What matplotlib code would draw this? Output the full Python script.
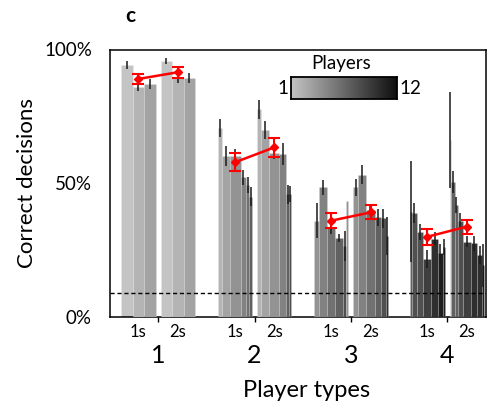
import numpy as np
import matplotlib
matplotlib.use('Agg')
import matplotlib.pyplot as plt
from matplotlib.colors import LinearSegmentedColormap

plt.rcParams['font.family'] = ['Lato', 'DejaVu Sans']

# ---------------- data ----------------
player_types = [1, 2, 3, 4]
stage_labels = ['1s', '2s']

# players (colour index 1..12) of the bars in each block
players_1s = [[1, 2, 3], [2, 3, 4, 5, 6, 7], [4, 5, 6, 7, 8, 4], [7, 8, 8, 9, 10, 11, 11]]
players_2s = [[1, 2, 3], [2, 3, 4, 5, 7, 8], [4, 5, 6, 7, 8, 10], [2, 7, 7, 8, 9, 10, 10, 11]]

# correct decisions (%) per bar
values_1s = [[94.2, 86.1, 87.1],
             [70.8, 60.2, 60.2, 52.2, 49.3, 45.0],
             [36.0, 48.5, 33.2, 29.6, 26.5, 43.4],
             [39.4, 38.8, 31.9, 21.8, 29.3, 23.8, 26.0]]
values_2s = [[95.8, 89.5, 89.2],
             [77.6, 69.9, 61.4, 61.0, 45.9, 46.0],
             [48.5, 53.2, 40.0, 37.2, 36.9, 30.2],
             [66.2, 50.5, 42.0, 35.9, 28.2, 27.5, 23.2, 19.4]]

# error (%) per bar
errors_1s = [[1.4, 1.6, 1.7],
             [3.4, 3.6, 2.7, 2.8, 3.0, 3.5],
             [6.5, 2.9, 2.0, 1.6, 5.5, 0.0],
             [19.0, 3.7, 3.0, 3.4, 2.5, 3.5, 3.0]]
errors_2s = [[1.1, 2.0, 1.9],
             [3.7, 3.3, 2.5, 4.0, 3.6, 3.0],
             [3.1, 3.5, 2.0, 3.0, 3.5, 7.0],
             [18.0, 4.0, 3.0, 3.0, 2.0, 2.8, 3.5, 8.0]]

# mean per type and stage (red)
mean_1s = [89.0, 57.8, 36.0, 30.0]
mean_2s = [91.5, 63.4, 39.1, 33.8]
mean_err_1s = [2.0, 3.4, 2.8, 3.0]
mean_err_2s = [2.0, 3.6, 2.6, 2.6]

chance_level = 100 / 11

# ---------------- style ----------------
# relative widths of the bars inside each block (style only)
widths_1s = [[11, 11.3, 11],
             [4.3, 8, 11, 5, 3.3, 2.7],
             [5.3, 7.3, 7.7, 8.3, 3, 2],
             [1.7, 5, 6.7, 8.3, 6.7, 5, 1.7]]
widths_2s = [[11, 11.7, 11.3],
             [4.3, 7.3, 11, 7.3, 2.7, 2.3],
             [5, 7.3, 9.3, 6.3, 5, 2],
             [1, 4, 3.3, 5.7, 7.7, 6.7, 5.7, 1.7]]

block_offset = 0.205
block_width = 0.355

cmap = LinearSegmentedColormap.from_list('players', ['#c4c4c4', '#0e0e0e'])


def pcolor(p):
    return cmap((p - 1) / 11)


fig = plt.figure(figsize=(4.97, 4.08), dpi=100)
ax = fig.add_axes([110 / 497, 1 - 317 / 408, 375.7 / 497, 267.5 / 408])

z = 2
for stage, (pl, vals, errs, wids) in enumerate([
        (players_1s, values_1s, errors_1s, widths_1s),
        (players_2s, values_2s, errors_2s, widths_2s)]):
    sign = -1 if stage == 0 else 1
    for gi, t in enumerate(player_types):
        center = t + sign * block_offset
        w = np.array(wids[gi], dtype=float)
        w = w / w.sum() * block_width
        lefts = center - block_width / 2 + np.concatenate([[0], np.cumsum(w)[:-1]])
        for j in range(len(vals[gi])):
            ax.bar(lefts[j], vals[gi][j], width=w[j], align='edge',
                   color=pcolor(pl[gi][j]), edgecolor=(1, 1, 1, 0.25),
                   linewidth=0.4, zorder=z)
            if errs[gi][j] > 0:
                ax.errorbar(lefts[j] + w[j] / 2, vals[gi][j], yerr=errs[gi][j],
                            fmt='none', ecolor='#1a1a1a', elinewidth=1.1,
                            capsize=0, zorder=z + 0.5)
            z += 1

ax.axhline(chance_level, color='black', linestyle=(0, (3, 2)), linewidth=1.0,
           zorder=z + 1)

for gi, t in enumerate(player_types):
    xs = [t - block_offset, t + block_offset]
    ys = [mean_1s[gi], mean_2s[gi]]
    es = [mean_err_1s[gi], mean_err_2s[gi]]
    ax.errorbar(xs, ys, yerr=es, color='red', ecolor='red', marker='D',
                markersize=4.5, linewidth=1.8, elinewidth=1.5, capsize=4.3,
                capthick=1.5, zorder=z + 5)

ax.set_xlim(0.5, 4.4)
ax.set_ylim(0, 100)
ax.set_yticks([0, 50, 100])
ax.set_yticklabels(['0%', '50%', '100%'], fontsize=13.5)
ax.tick_params(axis='y', length=0, pad=13)

ax.set_xticks(player_types)
ax.set_xticklabels([str(t) for t in player_types], fontsize=18)
ax.tick_params(axis='x', which='major', length=3.5, width=1, direction='out', pad=16)
minor_pos = []
minor_lab = []
for t in player_types:
    minor_pos += [t - block_offset, t + block_offset]
    minor_lab += stage_labels
ax.set_xticks(minor_pos, minor=True)
ax.set_xticklabels(minor_lab, minor=True, fontsize=12)
ax.tick_params(axis='x', which='minor', length=0, pad=5)

for s in ax.spines.values():
    s.set_linewidth(1.1)

ax.set_ylabel('Correct decisions', fontsize=16)
ax.yaxis.set_label_coords(-0.195, 0.5)
ax.set_xlabel('Player types', fontsize=17)
ax.xaxis.set_label_coords(0.524, -0.235)

fig.text(130 / 497, 1 - 16 / 408, 'c', fontsize=15, fontweight='bold',
         ha='center', va='center')

# colour legend for players
cax = fig.add_axes([290.7 / 497, 1 - 99.3 / 408, 106 / 497, 22 / 408])
grad = np.linspace(0, 1, 256).reshape(1, -1)
cax.imshow(grad, cmap=cmap, aspect='auto', extent=[1, 12, 0, 1])
cax.set_xticks([])
cax.set_yticks([])
for s in cax.spines.values():
    s.set_linewidth(1.3)
fig.text(341 / 497, 1 - 63 / 408, 'Players', fontsize=13.5, ha='center', va='center')
fig.text(283 / 497, 1 - 88 / 408, '1', fontsize=13.5, ha='center', va='center')
fig.text(399 / 497, 1 - 88 / 408, '12', fontsize=13.5, ha='left', va='center')

fig.savefig('out.png', dpi=100)
